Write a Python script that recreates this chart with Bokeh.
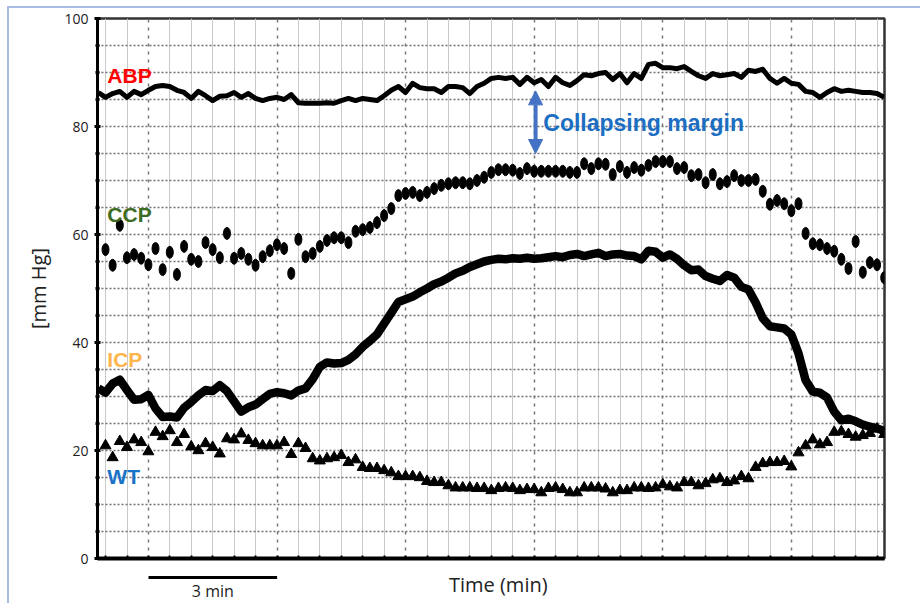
import numpy as np
from bokeh.plotting import figure
from bokeh.layouts import column
from bokeh.models import (Range1d, FixedTicker, SingleIntervalTicker, Grid, Label,
                          Arrow, NormalHead)
from bokeh.embed import file_html
from bokeh.resources import INLINE

# ---------------- data ----------------
# samples every 10 s (1/6 min); time in minutes from the left edge of the record
abp = [86.3, 85.4, 86.1, 86.5, 85.4, 86.5, 85.9, 86.7, 87.4, 87.6, 87.4, 86.7, 86.3, 85.2, 86.5,
       85.7, 84.8, 85.6, 85.7, 86.3, 85.4, 86.1, 85.2, 84.8, 85.2, 85.4, 85.0, 85.9, 84.4,
       84.3, 84.3, 84.3, 84.4, 84.3, 84.8, 85.2, 84.8, 85.2, 85.0, 84.8, 85.7, 86.7, 87.4, 86.3,
       88.0, 87.2, 87.0, 87.0, 86.3, 87.4, 87.4, 87.2, 86.1, 87.4, 88.0, 88.9, 89.1, 88.9, 89.1,
       87.8, 89.1, 88.1, 88.7, 87.4, 89.1, 88.1, 87.6, 88.5, 89.6, 89.4, 89.8,
       90.0, 88.7, 89.8, 88.1, 89.8, 88.9, 91.5, 91.7, 90.9, 90.9, 90.7, 91.1, 90.2, 89.4, 88.9,
       89.8, 89.4, 89.6, 89.8, 89.1, 90.4, 90.2, 90.6, 88.9, 88.0, 88.9, 88.0, 87.8, 86.5, 86.3,
       85.4, 86.3, 87.0, 86.5, 86.7, 86.5, 86.3, 86.3, 86.1, 85.4]

icp = [31.5, 30.7, 32.4, 33.1, 31.2, 29.4, 29.5, 30.3, 27.8, 26.2,
       26.3, 26.1, 27.9, 29.0, 30.2, 31.2, 31.0, 32.1, 31.0, 29.1,
       27.2, 28.0, 28.5, 29.5, 30.5, 30.8, 30.6, 30.2, 31.1, 31.5,
       33.2, 35.5, 36.3, 36.1, 36.2, 36.8, 37.8, 39.2, 40.3, 41.5,
       43.5, 45.5, 47.5, 48.0, 48.5, 49.3, 50.0, 50.8, 51.3, 52.0, 52.8, 53.3, 54.0, 54.5, 55.0,
       55.3, 55.5, 55.4, 55.6, 55.5, 55.7, 55.5, 55.6, 55.8, 56.0, 55.8, 56.2, 56.4, 56.0, 56.3, 56.6,
       56.0, 56.3, 56.4, 56.1, 56.0, 55.4, 57.0, 56.8, 55.7, 56.3,
       55.5, 54.3, 53.4, 53.5, 52.3, 51.8, 51.4, 52.5, 52.0, 50.3,
       49.8, 47.4, 44.5, 43.0, 42.8, 42.6, 41.5, 38.0, 33.0, 30.9,
       30.7, 29.8, 27.2, 25.6, 25.9, 25.4, 24.8, 24.4, 24.1, 23.6]

ccp = [57.2, 54.3, 61.7, 55.7, 56.3, 55.6, 54.4, 57.4, 53.5, 56.7,
       52.6, 57.8, 55.4, 55.0, 58.5, 57.2, 55.7, 60.2, 55.6, 56.5,
       55.4, 54.3, 55.9, 57.0, 58.1, 57.4, 52.8, 59.1, 55.9, 56.5,
       57.8, 58.9, 59.4, 59.4, 58.5, 60.6, 60.9, 61.3, 62.2,
       63.5, 64.8, 67.2, 67.6, 67.8, 67.2, 67.8, 68.5, 69.1, 69.4,
       69.6, 69.6, 69.4, 70.0, 70.6, 71.5, 72.0, 72.0, 71.9, 71.3,
       72.2, 71.7, 71.7, 71.7, 71.7, 71.7, 71.5, 71.5, 73.1, 72.2, 73.1,
       73.0, 71.1, 72.6, 71.5, 72.4, 71.9, 72.8, 73.5, 73.5, 73.5,
       72.2, 72.4, 70.9, 71.1, 69.6, 71.1, 69.4, 69.8, 70.9, 70.0,
       70.0, 70.2, 68.0, 65.6, 66.3, 65.7, 64.4, 65.7, 60.2, 58.3,
       58.1, 57.4, 56.9, 55.4, 53.7, 58.7, 53.0, 54.8, 54.4, 52.0]

wt = [20.9, 18.7, 21.7, 20.6, 22.0, 21.5, 19.8, 23.4, 22.6, 23.7, 21.5, 23.0, 20.7, 20.0,
      21.3, 20.6, 19.4, 22.2, 22.0, 23.1, 21.9, 21.3, 20.9, 20.9, 20.9, 21.5, 19.3, 21.3,
      20.4, 18.5, 18.1, 18.5, 18.7, 19.1, 17.8, 18.3, 16.9, 16.7, 16.7, 16.3, 15.9,
      15.2, 15.2, 15.2, 15.0, 14.3, 14.1, 14.1, 13.5, 13.1, 13.1, 13.1, 13.0, 13.0, 12.6, 13.0,
      13.1, 13.0, 12.6, 12.8, 12.8, 12.2, 13.0, 13.1, 12.8, 12.2, 12.2, 13.1, 13.1, 13.1,
      12.9, 12.2, 12.6, 12.6, 13.1, 13.1, 13.0, 13.1, 13.7, 13.3,
      13.1, 14.1, 14.1, 13.5, 13.9, 14.6, 14.8, 14.1, 14.4, 15.2,
      14.8, 16.9, 17.6, 17.8, 17.8, 18.0, 17.0, 19.6, 20.9, 22.0,
      21.1, 21.5, 23.4, 23.5, 23.0, 22.5, 22.8, 23.2, 24.0, 23.0]

t_line = 0.02 + np.arange(len(abp)) / 6.0     # minutes
t_mark = t_line[1:1 + len(ccp)]

major_x = [1.19 + 3 * j for j in range(6)]             # dashed 3-min lines
minor_x = [0.19 + 0.5 * j for j in range(37) if (j - 2) % 6 != 0]
scale_bar = [1.19, 4.19]                               # the "3 min" bar
scale_mid = 2.69
xlabel_pos = 9.35

W = 911
H = 595
STRIP = 42
x_range = Range1d(0, 18.36)

# ---------------- main figure ----------------
p = figure(width=W, height=H, x_range=x_range, y_range=Range1d(0, 100),
           output_backend="svg", toolbar_location=None,
           min_border_left=88, min_border_right=36, min_border_top=10, min_border_bottom=45)
p.background_fill_color = "white"
p.border_fill_color = "white"
p.outline_line_color = "#333333"
p.outline_line_width = 2.5

# grids
p.xgrid.ticker = FixedTicker(ticks=minor_x)
p.xgrid.grid_line_color = "#c9c9c9"
p.xgrid.grid_line_width = 1
p.ygrid.ticker = FixedTicker(ticks=list(range(5, 100, 5)))
p.ygrid.grid_line_color = "#707070"
p.ygrid.grid_line_dash = "2 2"
p.ygrid.grid_line_width = 1.5
p.add_layout(Grid(dimension=0, ticker=FixedTicker(ticks=major_x),
                  grid_line_color="#777777", grid_line_dash="3 5", grid_line_width=1.5))

# y axis
ya = p.yaxis[0]
ya.ticker = SingleIntervalTicker(interval=20, num_minor_ticks=4)
ya.axis_line_width = 3
ya.axis_line_color = "black"
ya.major_tick_line_width = 3
ya.major_tick_in = 3
ya.major_tick_out = 3
ya.minor_tick_line_width = 3
ya.minor_tick_in = 2
ya.minor_tick_out = 2
ya.major_label_text_font = "Open Sans"
ya.major_label_text_font_size = "14px"
ya.major_label_text_color = "#222222"
ya.major_label_standoff = 6
ya.axis_label = "[mm Hg]"
ya.axis_label_text_font = "Open Sans"
ya.axis_label_text_font_size = "20px"
ya.axis_label_text_font_style = "normal"
ya.axis_label_text_color = "#222222"
ya.axis_label_standoff = 9

# x axis: thick line with small tick marks only (time is given by the scale bar)
xa = p.xaxis[0]
xa.ticker = FixedTicker(ticks=[], minor_ticks=sorted(major_x + minor_x))
xa.axis_line_width = 4
xa.axis_line_color = "black"
xa.minor_tick_line_width = 2
xa.minor_tick_in = 3
xa.minor_tick_out = 1
xa.major_tick_out = 0

# ---------------- series ----------------
p.line(t_line, abp, line_color="black", line_width=5, line_join="round")
p.line(t_line, icp, line_color="black", line_width=8.5, line_join="round")
p.ellipse(t_mark, ccp, width=7, height=12, width_units="screen", height_units="screen",
          fill_color="black", line_color="black")
p.scatter(t_mark, wt, marker="triangle", size=11, fill_color="black", line_color="black")

# ---------------- labels ----------------
def lab(fig, x, y, text, color, size="21px", font="Liberation Sans", style="bold",
        align="left"):
    fig.add_layout(Label(x=x, y=y, text=text, text_color=color, text_font=font,
                         text_font_size=size, text_font_style=style,
                         text_align=align, text_baseline="middle"))

lab(p, 0.23, 89.4, "ABP", "#ff0000")
lab(p, 0.23, 63.7, "CCP", "#3c6b21")
lab(p, 0.23, 36.8, "ICP", "#fdb54c")
lab(p, 0.23, 15.2, "WT", "#1a72c7")
lab(p, 10.40, 80.7, "Collapsing margin", "#1b6ec2", size="23px")

p.add_layout(Arrow(start=NormalHead(size=14, fill_color="#4472c4", line_color="#4472c4"),
                   end=NormalHead(size=14, fill_color="#4472c4", line_color="#4472c4"),
                   x_start=10.22, y_start=75.0, x_end=10.22, y_end=86.6,
                   line_color="#4472c4", line_width=4))

# ---------------- transparent strip laid over the bottom margin ----------------
pb = figure(width=W, height=STRIP, x_range=x_range, y_range=Range1d(0, STRIP),
            output_backend="svg", toolbar_location=None,
            x_axis_location=None, y_axis_location=None,
            min_border_left=88, min_border_right=36, min_border_top=0, min_border_bottom=0)
pb.styles = {"margin-top": "-%dpx" % STRIP}
pb.outline_line_color = None
pb.background_fill_color = None
pb.border_fill_color = None
pb.grid.visible = False
pb.line(scale_bar, [26, 26], line_color="black", line_width=3)
lab(pb, scale_mid, 12.5, "3 min", "#222222", size="16px", font="Open Sans",
    style="normal", align="center")
lab(pb, xlabel_pos, 19, "Time (min)", "#222222", size="20px", font="Open Sans",
    style="normal", align="center")

layout = column(p, pb, spacing=0,
                styles={"margin-left": "7px", "margin-top": "6px",
                        "border-left": "2px solid #a7bbe4",
                        "border-top": "2px solid #a7bbe4"})

open("out.html", "w").write(file_html(layout, INLINE))
